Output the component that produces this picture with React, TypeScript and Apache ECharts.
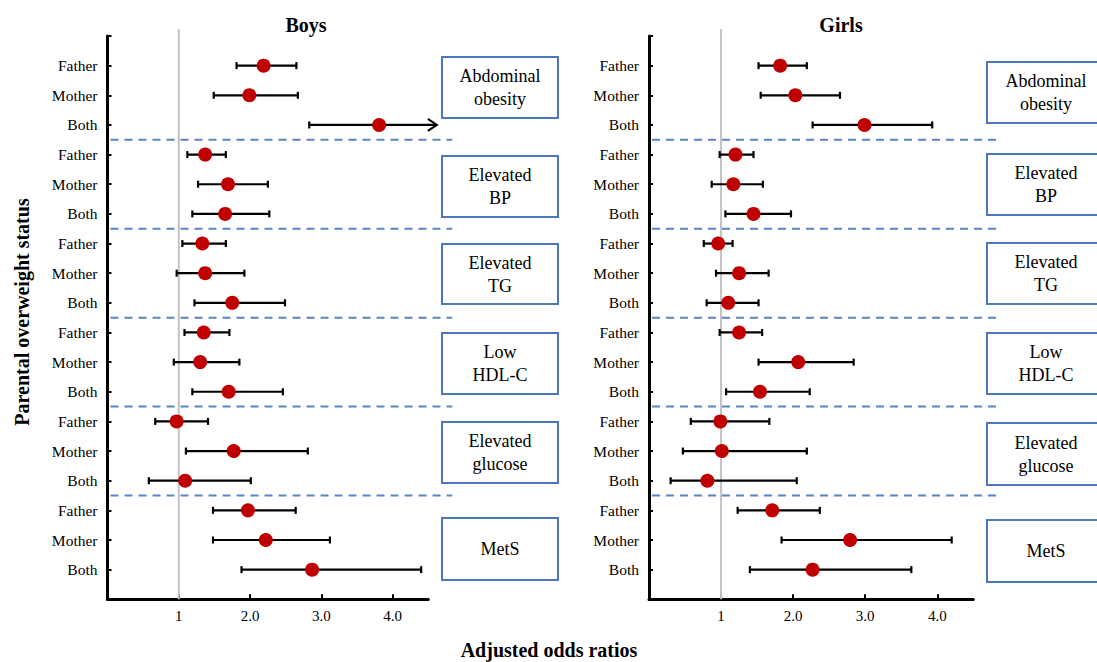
import React, { useEffect, useRef } from "react";
import * as echarts from "echarts";

const groups = ["Abdominal\nobesity", "Elevated\nBP", "Elevated\nTG", "Low\nHDL-C", "Elevated\nglucose", "MetS"];
const parents = ["Father", "Mother", "Both"];
const xTickLabels = ["", "1", "2.0", "3.0", "4.0"];

const boysOR = [2.19, 1.99, 3.81, 1.37, 1.69, 1.65, 1.33, 1.37, 1.75, 1.35, 1.3, 1.7, 0.97, 1.77, 1.09, 1.97, 2.22, 2.87];
const boysLow = [1.81, 1.49, 2.83, 1.12, 1.27, 1.19, 1.05, 0.97, 1.22, 1.08, 0.93, 1.19, 0.67, 1.1, 0.58, 1.48, 1.48, 1.88];
const boysHigh = [2.65, 2.67, 4.62, 1.66, 2.25, 2.27, 1.66, 1.92, 2.49, 1.71, 1.85, 2.46, 1.41, 2.81, 2.01, 2.64, 3.12, 4.4];

const girlsOR = [1.82, 2.03, 2.99, 1.2, 1.17, 1.45, 0.96, 1.25, 1.1, 1.25, 2.07, 1.54, 0.99, 1.01, 0.81, 1.71, 2.79, 2.27];
const girlsLow = [1.52, 1.55, 2.27, 0.98, 0.87, 1.06, 0.76, 0.93, 0.8, 0.98, 1.52, 1.07, 0.58, 0.47, 0.3, 1.23, 1.84, 1.4];
const girlsHigh = [2.19, 2.65, 3.93, 1.45, 1.58, 1.97, 1.16, 1.66, 1.52, 1.57, 2.84, 2.23, 1.67, 2.19, 2.05, 2.37, 4.2, 3.64];

const rowLabels = groups.flatMap(() => parents);
const X_MAX = 4.5;
const Y_MAX = rowLabels.length + 1;
const separators = groups.slice(1).map((_, i) => (i + 1) * parents.length + 0.5);

const FONT = "Liberation Serif";
const BLUE = "#4f77c0";
const DASH = "#5b84c4";

export default function App() {
  const ref = useRef<HTMLDivElement>(null);

  useEffect(() => {
    document.body.style.margin = "0";
    const chart = echarts.init(ref.current!, null, { renderer: "svg" });

    const grids = [
      { left: 107.5, top: 36, width: 320.8, height: 563.3 },
      { left: 649, top: 36, width: 324.3, height: 563.3 },
    ];

    const xAxis = grids.map((_, i) => ({
      type: "value",
      gridIndex: i,
      position: "bottom",
      min: 0,
      max: X_MAX,
      interval: 1,
      axisLine: { show: true, onZero: false, lineStyle: { color: "#000", width: 3 } },
      axisTick: { show: true, inside: true, length: 5, lineStyle: { color: "#000", width: 2 } },
      axisLabel: {
        formatter: (v: number) => xTickLabels[v] ?? "",
        color: "#000",
        fontFamily: FONT,
        fontSize: 15,
        margin: 9,
        showMaxLabel: false,
      },
      splitLine: { show: false },
    }));

    const yAxis = grids.map((_, i) => ({
      type: "value",
      gridIndex: i,
      position: "left",
      min: 0,
      max: Y_MAX,
      interval: 1,
      inverse: true,
      axisLine: { show: true, onZero: false, lineStyle: { color: "#000", width: 3 } },
      axisTick: { show: true, inside: true, length: 4, lineStyle: { color: "#000", width: 2 } },
      axisLabel: {
        formatter: (v: number) => rowLabels[v - 1] ?? "",
        color: "#000",
        fontFamily: FONT,
        fontSize: 15.5,
        margin: 10,
      },
      splitLine: { show: false },
    }));

    const panels = [
      { or: boysOR, lo: boysLow, hi: boysHigh, ext: 24 },
      { or: girlsOR, lo: girlsLow, hi: girlsHigh, ext: 24 },
    ];

    const series: any[] = [];
    panels.forEach((p, i) => {
      series.push({
        type: "custom",
        xAxisIndex: i,
        yAxisIndex: i,
        clip: false,
        silent: true,
        z: 1,
        data: [[1]],
        renderItem: (params: any, api: any) => {
          const cs = params.coordSys;
          const x = api.coord([api.value(0), 0])[0];
          return {
            type: "line",
            shape: { x1: x, y1: cs.y - 7, x2: x, y2: cs.y + cs.height },
            style: { stroke: "#c2c2c2", lineWidth: 2 },
          };
        },
      });
      series.push({
        type: "custom",
        xAxisIndex: i,
        yAxisIndex: i,
        clip: false,
        silent: true,
        z: 2,
        data: separators.map((s) => [s]),
        renderItem: (params: any, api: any) => {
          const cs = params.coordSys;
          const y = api.coord([0, api.value(0)])[1];
          return {
            type: "line",
            shape: { x1: cs.x + 3, y1: y, x2: cs.x + cs.width + p.ext, y2: y },
            style: { stroke: DASH, lineWidth: 2, lineDash: [8, 6] },
          };
        },
      });
      series.push({
        type: "custom",
        xAxisIndex: i,
        yAxisIndex: i,
        clip: false,
        silent: true,
        z: 3,
        data: p.lo.map((l, k) => [l, p.hi[k], k + 1]),
        renderItem: (params: any, api: any) => {
          const cs = params.coordSys;
          const a = api.coord([api.value(0), api.value(2)]);
          const b = api.coord([api.value(1), api.value(2)]);
          const st = { stroke: "#000", lineWidth: 2.2 };
          const children: any[] = [
            { type: "line", shape: { x1: a[0], y1: a[1], x2: b[0], y2: b[1] }, style: st },
            { type: "line", shape: { x1: a[0], y1: a[1] - 3.5, x2: a[0], y2: a[1] + 3.5 }, style: st },
          ];
          if (b[0] > cs.x + cs.width) {
            children.push({
              type: "polyline",
              shape: { points: [[b[0] - 9, b[1] - 6], [b[0], b[1]], [b[0] - 9, b[1] + 6]] },
              style: { stroke: "#000", lineWidth: 2, fill: "none" },
            });
          } else {
            children.push({ type: "line", shape: { x1: b[0], y1: b[1] - 3.5, x2: b[0], y2: b[1] + 3.5 }, style: st });
          }
          return { type: "group", children };
        },
      });
      series.push({
        type: "scatter",
        xAxisIndex: i,
        yAxisIndex: i,
        z: 4,
        symbol: "circle",
        symbolSize: 14,
        itemStyle: { color: "#c00000", opacity: 1 },
        data: p.or.map((v, k) => [v, k + 1]),
      });
    });

    const boxesBoys = [
      { y: 57, h: 61 },
      { y: 156, h: 61 },
      { y: 244, h: 60 },
      { y: 333, h: 61 },
      { y: 422, h: 61 },
      { y: 518, h: 62 },
    ];
    const boxesGirls = [
      { y: 62, h: 61 },
      { y: 154, h: 61 },
      { y: 243, h: 61 },
      { y: 333, h: 61 },
      { y: 423, h: 62 },
      { y: 520, h: 62 },
    ];

    const makeBoxes = (boxes: { y: number; h: number }[], x: number, w: number) =>
      boxes.flatMap((b, k) => {
        const lines = groups[k].split("\n");
        const lh = 23;
        const cy = b.y + b.h / 2;
        return [
          {
            type: "rect",
            shape: { x, y: b.y, width: w, height: b.h },
            style: { fill: "#fff", stroke: BLUE, lineWidth: 2 },
            z: 10,
          },
          ...lines.map((t, j) => ({
            type: "text",
            x: x + w / 2,
            y: cy + (j - (lines.length - 1) / 2) * lh,
            z: 11,
            style: {
              text: t,
              fontFamily: FONT,
              fontSize: 18,
              fill: "#000",
              textAlign: "center",
              textVerticalAlign: "middle",
            },
          })),
        ];
      });

    const textEl = (text: string, x: number, y: number, size: number, rotation = 0) => ({
      type: "text",
      x,
      y,
      rotation,
      z: 12,
      style: {
        text,
        fontFamily: FONT,
        fontSize: size,
        fontWeight: "bold",
        fill: "#000",
        textAlign: "center",
        textVerticalAlign: "middle",
      },
    });

    chart.setOption({
      animation: false,
      backgroundColor: "#fff",
      grid: grids,
      xAxis,
      yAxis,
      series,
      graphic: [
        ...makeBoxes(boxesBoys, 442, 116),
        ...makeBoxes(boxesGirls, 987, 118),
        textEl("Boys", 306, 25, 20),
        textEl("Girls", 841, 25, 20),
        textEl("Adjusted odds ratios", 549, 650, 20),
        textEl("Parental overweight status", 22, 312, 20, Math.PI / 2),
      ],
    });

    return () => chart.dispose();
  }, []);

  return (
    <div style={{ position: "relative", width: 1097, height: 662 }}>
      <style>{`.forest-chart svg text { font-family: "Liberation Serif", "Times New Roman", serif !important; }`}</style>
      <div
        aria-hidden="true"
        style={{ position: "absolute", left: 0, top: 0, zIndex: 0, fontFamily: "Liberation Serif", fontSize: 18, color: "#fff" }}
      >
        Father Mother Both
      </div>
      <div
        className="forest-chart"
        ref={ref}
        style={{ position: "absolute", left: 0, top: 0, zIndex: 1, width: 1097, height: 662 }}
      />
    </div>
  );
}
